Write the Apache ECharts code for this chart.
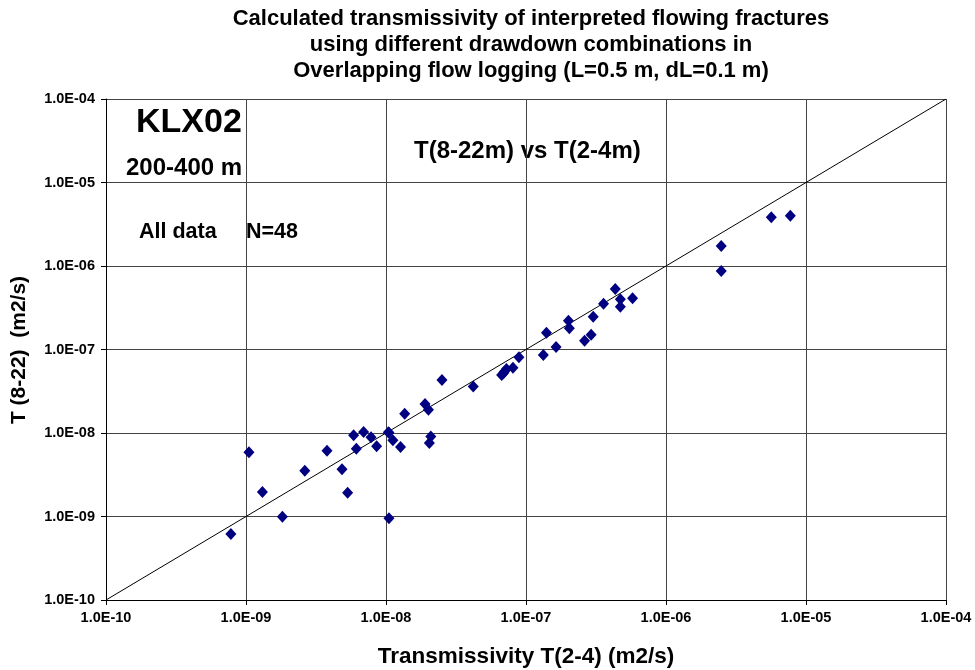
<!DOCTYPE html>
<html>
<head>
<meta charset="utf-8">
<script src="https://cdn.jsdelivr.net/npm/echarts@6/dist/echarts.min.js"></script>
<style>
  html, body { margin: 0; padding: 0; background: #fff; }
  #chart { width: 975px; height: 670px; }
</style>
</head>
<body>
<div id="chart"></div>
<script>
// Transmissivity from the 2-4 m drawdown pair (x) and the 8-22 m pair (y), m2/s
const tShort = [
  7.8e-10, 1.05e-9, 1.31e-9, 1.82e-9, 2.63e-9, 3.79e-9, 4.85e-9, 5.32e-9,
  5.87e-9, 6.14e-9, 6.92e-9, 7.82e-9, 8.57e-9, 1.05e-8, 1.05e-8, 1.12e-8,
  1.27e-8, 1.36e-8, 1.9e-8, 2.01e-8, 2.09e-8, 2.04e-8, 2.51e-8, 4.2e-8,
  6.7e-8, 7.0e-8, 7.25e-8, 8.07e-8, 8.9e-8, 1.33e-7, 1.4e-7, 1.64e-7,
  2.01e-7, 2.04e-7, 2.62e-7, 2.92e-7, 3.02e-7, 3.58e-7, 4.34e-7, 4.72e-7,
  4.72e-7, 5.77e-7, 2.48e-6, 2.48e-6, 5.65e-6, 7.73e-6, 6.9e-8, 1.04e-8
];
const tLong = [
  6.17e-10, 5.87e-9, 1.97e-9, 9.95e-10, 3.54e-9, 6.14e-9, 3.67e-9, 1.93e-9,
  9.38e-9, 6.49e-9, 1.03e-8, 8.87e-9, 6.92e-9, 1.01e-8, 9.5e-10, 8.17e-9,
  6.8e-9, 1.7e-8, 2.22e-8, 1.9e-8, 9.1e-9, 7.6e-9, 4.3e-8, 3.6e-8,
  4.95e-8, 5.4e-8, 5.84e-8, 6.05e-8, 8.06e-8, 8.6e-8, 1.59e-7, 1.07e-7,
  2.21e-7, 1.8e-7, 1.27e-7, 1.5e-7, 2.47e-7, 3.54e-7, 5.3e-7, 3.99e-7,
  3.26e-7, 4.1e-7, 1.74e-6, 8.7e-7, 3.83e-6, 4.01e-6, 5.2e-8, 1.02e-8
];
// 1:1 reference line across the full axis range
const lineEnds = [1e-10, 1e-4];

const axisMin = 1e-10;
const axisMax = 1e-4;

const titleLines = [
  'Calculated transmissivity of interpreted flowing fractures',
  'using different drawdown combinations in',
  'Overlapping flow logging (L=0.5 m, dL=0.1 m)'
];

function sciLabel(v) {
  const e = Math.round(Math.log10(v));
  const sign = e < 0 ? '-' : '+';
  const a = Math.abs(e);
  return '1.0E' + sign + (a < 10 ? '0' + a : '' + a);
}

const font = 'Liberation Sans, Arial, Helvetica, sans-serif';
const chart = echarts.init(document.getElementById('chart'), null, { renderer: 'canvas' });

const logAxis = {
  type: 'log',
  logBase: 10,
  min: axisMin,
  max: axisMax,
  axisLine: { show: true, onZero: false, lineStyle: { color: '#000', width: 1 } },
  axisTick: { show: true, length: 5, lineStyle: { color: '#000' } },
  minorTick: { show: false },
  splitLine: { show: true, lineStyle: { color: '#444', width: 1, type: 'solid' } },
  axisLabel: {
    formatter: sciLabel,
    fontFamily: font,
    fontWeight: 'bold',
    fontSize: 14.5,
    color: '#000'
  }
};

function label(text, x, y, size, align) {
  return {
    type: 'text', x: x, y: y,
    style: {
      text: text, fontFamily: font, fontWeight: 'bold', fontSize: size,
      fill: '#000', align: align || 'left', verticalAlign: 'middle'
    }
  };
}

const titleGraphics = titleLines.map((t, i) => label(t, 531, 19 + i * 26, 22, 'center'));

chart.setOption({
  animation: false,
  backgroundColor: '#fff',
  grid: { left: 106, right: 29, top: 99, bottom: 70, containLabel: false },
  xAxis: Object.assign({}, logAxis, {
    axisLabel: Object.assign({}, logAxis.axisLabel, { margin: 10 })
  }),
  yAxis: Object.assign({}, logAxis, {
    axisLabel: Object.assign({}, logAxis.axisLabel, { margin: 11 })
  }),
  graphic: titleGraphics.concat([
    label('KLX02', 136, 123, 34),
    label('200-400 m', 126, 168, 24),
    label('All data', 139, 232, 21.5),
    label('N=48', 246, 232, 21.5),
    label('T(8-22m) vs T(2-4m)', 414, 151, 24),
    label('Transmissivity T(2-4) (m2/s)', 526, 657, 22.5, 'center'),
    Object.assign(label('T (8-22)  (m2/s)', 19, 350, 21, 'center'), { rotation: Math.PI / 2 })
  ]),
  series: [
    {
      type: 'line',
      data: lineEnds.map(v => [v, v]),
      symbol: 'none',
      lineStyle: { color: '#000', width: 1 },
      z: 3,
      silent: true
    },
    {
      type: 'scatter',
      data: tShort.map((x, i) => [x, tLong[i]]),
      symbol: 'diamond',
      symbolSize: [11, 12],
      itemStyle: { color: '#000080', opacity: 1 },
      z: 4
    }
  ]
});
</script>
</body>
</html>
